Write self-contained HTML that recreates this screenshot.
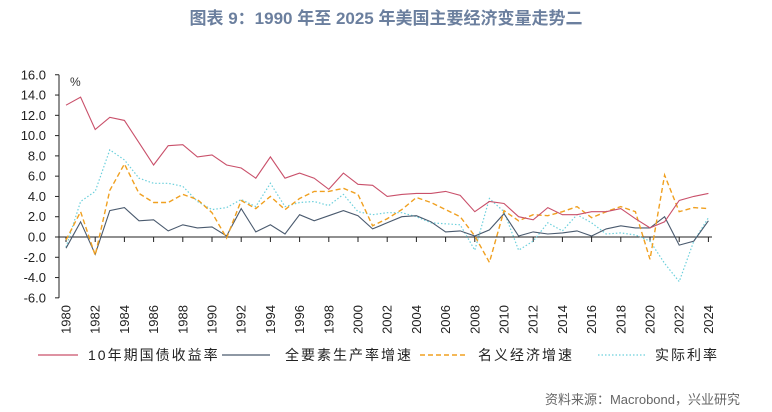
<!DOCTYPE html>
<html><head><meta charset="utf-8"><style>
html,body{margin:0;padding:0;background:#fff;width:772px;height:412px;overflow:hidden}
svg{display:block}
text{font-family:"Liberation Sans","Noto Sans CJK SC",sans-serif}
</style></head><body>
<svg id="c" width="772" height="412" xmlns="http://www.w3.org/2000/svg">
<text x="386" y="24" text-anchor="middle" font-size="17" font-weight="bold" fill="#6b7f9e">图表 9：1990 年至 2025 年美国主要经济变量走势二</text>
<text x="70" y="86" font-size="12" fill="#333">%</text>
<g id="g"></g>
<line x1="38" y1="355" x2="78" y2="355" stroke="#c9506a" stroke-width="1.2"/>
<text x="88" y="360" font-size="14" fill="#222" letter-spacing="2">10年期国债收益率</text>
<line x1="222" y1="355" x2="270" y2="355" stroke="#4a5a6e" stroke-width="1.2"/>
<text x="285" y="360" font-size="14" fill="#222" letter-spacing="2">全要素生产率增速</text>
<line x1="420" y1="355" x2="465" y2="355" stroke="#f0a020" stroke-width="1.4" stroke-dasharray="5,3"/>
<text x="478" y="360" font-size="14" fill="#222" letter-spacing="2">名义经济增速</text>
<line x1="598" y1="355" x2="645" y2="355" stroke="#6cd0dc" stroke-width="1.2" stroke-dasharray="1.5,2"/>
<text x="655" y="360" font-size="14" fill="#222" letter-spacing="2">实际利率</text>
<text x="740" y="404" text-anchor="end" font-size="13" fill="#666">资料来源：Macrobond，兴业研究</text>
</svg>
<script>
var g=document.getElementById('g'),h='';
function X(i){return 66+14.6*i}function Y(v){return 237-10.14*v}
for(var v=16;v>=-6;v-=2){h+='<text x="46" y="'+(Y(v)+4.5)+'" text-anchor="end" font-size="13" fill="#222">'+v.toFixed(1)+'</text>';h+='<line x1="55" x2="59" y1="'+Y(v)+'" y2="'+Y(v)+'" stroke="#222"/>';}
h+='<line x1="59" x2="59" y1="'+Y(16)+'" y2="'+Y(-6)+'" stroke="#222"/>';
h+='<line x1="59" x2="712" y1="237" y2="237" stroke="#222"/>';
for(var i=0;i<=44;i++){h+='<line x1="'+X(i)+'" x2="'+X(i)+'" y1="237" y2="'+(i%2?237:242)+'" stroke="#222"/>';
if(i%2==0)h+='<text transform="translate('+(X(i)+4.5)+',305) rotate(-90)" text-anchor="end" font-size="13" fill="#222">'+(1980+i)+'</text>';}
var red=[13.0,13.8,10.6,11.8,11.5,9.3,7.1,9.0,9.1,7.9,8.1,7.1,6.8,5.8,7.9,5.8,6.3,5.8,4.7,6.3,5.2,5.1,4.0,4.2,4.3,4.3,4.5,4.1,2.5,3.5,3.3,2.0,1.7,2.9,2.2,2.2,2.5,2.5,2.8,1.8,0.9,1.5,3.6,4.0,4.3];
var dk=[-1.1,1.5,-1.7,2.6,2.9,1.6,1.7,0.6,1.2,0.9,1.0,0.1,2.8,0.5,1.2,0.3,2.2,1.6,2.1,2.6,2.1,0.8,1.4,2.0,2.1,1.5,0.5,0.6,0.1,0.7,2.3,0.1,0.5,0.3,0.4,0.6,0.1,0.8,1.1,0.9,0.9,2.0,-0.8,-0.4,1.6];
var or=[-0.3,2.5,-1.8,4.6,7.2,4.3,3.4,3.4,4.2,3.7,2.4,-0.1,3.6,2.8,4.0,2.7,3.8,4.5,4.5,4.8,4.2,1.1,1.8,2.7,3.9,3.4,2.7,2.0,0.1,-2.5,2.6,1.6,2.2,2.1,2.5,3.0,1.9,2.5,3.0,2.5,-2.2,6.1,2.5,2.9,2.8];
var cy=[-1.0,3.5,4.5,8.6,7.6,5.8,5.3,5.3,5.0,3.5,2.7,2.9,3.7,3.0,5.3,3.0,3.4,3.5,3.1,4.2,2.5,2.2,2.4,2.4,2.0,1.4,1.3,1.2,-1.3,3.8,2.5,-1.3,-0.4,1.4,0.6,2.2,1.4,0.3,0.4,0.2,-0.4,-2.6,-4.4,-0.4,1.9];
function P(d,st){return '<polyline fill="none" points="'+d.map(function(v,i){return X(i).toFixed(1)+','+Y(v).toFixed(1)}).join(' ')+'" '+st+'/>'}
h+=P(cy,'stroke="#6cd0dc" stroke-width="1.2" stroke-dasharray="1.5,2"');
h+=P(dk,'stroke="#4a5a6e" stroke-width="1.1"');
h+=P(or,'stroke="#f0a020" stroke-width="1.4" stroke-dasharray="5,3"');
h+=P(red,'stroke="#c9506a" stroke-width="1.1"');
g.innerHTML=h;
</script>
</body></html>
